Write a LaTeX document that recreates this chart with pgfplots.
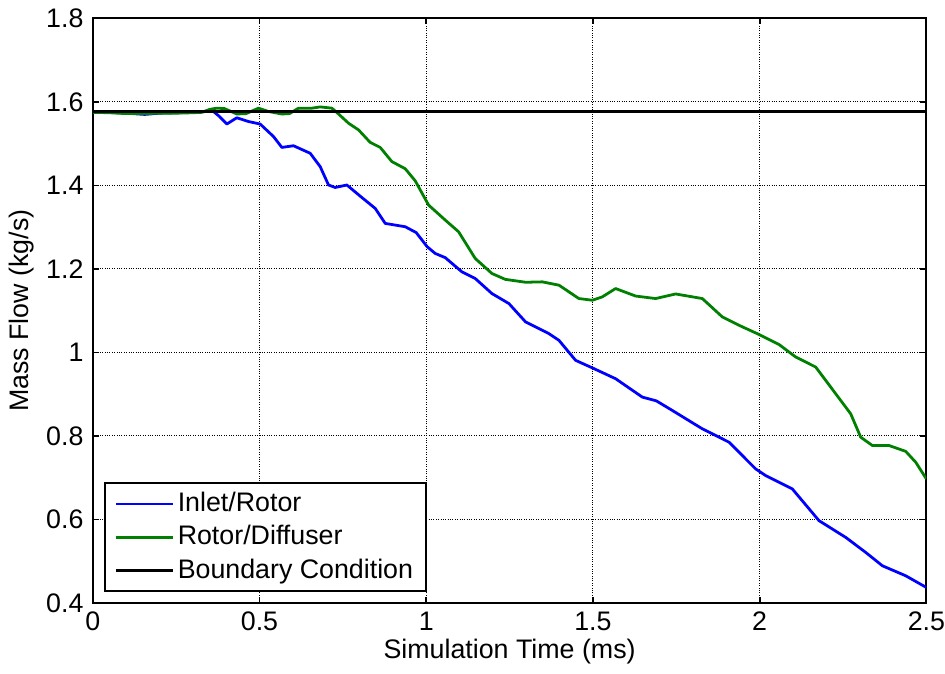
\documentclass[border=0pt]{standalone}
\usepackage{fontspec}
\setmainfont{Liberation Sans}
\usepackage{pgfplots}
\pgfplotsset{compat=1.18}

\definecolor{mblue}{RGB}{0,0,255}
\definecolor{mgreen}{RGB}{0,128,0}

\begin{document}
\fontsize{13.5}{16}\selectfont
\begin{tikzpicture}
\begin{axis}[
    scale only axis,
    width=420pt,
    height=294.5pt,
    xmin=0, xmax=2.5,
    ymin=0.4, ymax=1.8,
    xtick={0,0.5,...,2.5},
    ytick={0.4,0.6,...,1.8},
    xticklabels={0,0.5,1,1.5,2,2.5},
    yticklabels={0.4,0.6,0.8,1,1.2,1.4,1.6,1.8},
    xlabel={Simulation Time (ms)},
    ylabel={Mass Flow (kg/s)},
    xlabel style={yshift=5pt},
    ylabel style={yshift=-3pt},
    grid=major,
    major grid style={black, line width=0.5pt, dash pattern=on 0.5pt off 0.7pt},
    tick align=inside,
    major tick length=3pt,
    every tick/.style={black, line width=0.9pt},
    axis line style={line width=1.1pt},
    tick label style={font=\fontsize{13.5}{16}\selectfont},
    xticklabel style={inner xsep=0pt},
    label style={font=\fontsize{13.5}{16}\selectfont},
    /pgf/number format/assume math mode=true,
    legend cell align=left,
    legend style={
        at={(rel axis cs:0.013,0.018)}, anchor=south west,
        draw=black, line width=1.1pt, fill=white,
        font=\fontsize{13.5}{16}\selectfont,
        row sep=2pt, inner xsep=5pt, inner ysep=3pt,
        nodes={inner sep=1.5pt},
    },
    legend image code/.code={
        \draw[#1, line width=1.3pt] (0cm,0cm) -- (29pt,0cm);
    },
]

\addplot[mblue, line width=1.4pt, line join=round] coordinates {
(0.000,1.577) (0.050,1.575) (0.100,1.573) (0.156,1.570) (0.200,1.573)
(0.250,1.574) (0.300,1.575) (0.340,1.577) (0.362,1.577) (0.380,1.565)
(0.402,1.547) (0.432,1.562) (0.467,1.553) (0.502,1.547) (0.522,1.532)
(0.542,1.517) (0.567,1.491) (0.602,1.495) (0.652,1.477) (0.682,1.445)
(0.707,1.401) (0.727,1.395) (0.762,1.401) (0.807,1.371) (0.847,1.345)
(0.877,1.309) (0.937,1.301) (0.970,1.287) (1.003,1.253) (1.027,1.237)
(1.057,1.227) (1.107,1.193) (1.147,1.177) (1.197,1.141) (1.248,1.117)
(1.298,1.073) (1.368,1.045) (1.398,1.029) (1.448,0.981) (1.498,0.963)
(1.568,0.937) (1.648,0.893) (1.690,0.884) (1.738,0.861) (1.828,0.817)
(1.908,0.785) (1.988,0.721) (2.018,0.705) (2.098,0.673) (2.178,0.597)
(2.258,0.557) (2.318,0.521) (2.368,0.489) (2.438,0.465) (2.500,0.437)
};
\addlegendentry{Inlet/Rotor}

\addplot[mgreen, line width=1.4pt, line join=round] coordinates {
(0.000,1.575) (0.050,1.574) (0.100,1.572) (0.150,1.572) (0.200,1.573)
(0.250,1.573) (0.300,1.574) (0.327,1.575) (0.350,1.582) (0.372,1.585)
(0.395,1.584) (0.432,1.571) (0.460,1.572) (0.497,1.585) (0.527,1.577)
(0.567,1.571) (0.590,1.572) (0.617,1.585) (0.657,1.585) (0.682,1.588)
(0.717,1.585) (0.737,1.571) (0.767,1.549) (0.797,1.533) (0.832,1.503)
(0.862,1.491) (0.897,1.457) (0.937,1.440) (0.967,1.411) (1.007,1.353)
(1.057,1.317) (1.097,1.289) (1.147,1.225) (1.197,1.189) (1.237,1.175)
(1.298,1.168) (1.348,1.169) (1.398,1.161) (1.458,1.129) (1.498,1.125)
(1.528,1.133) (1.568,1.153) (1.628,1.135) (1.688,1.129) (1.748,1.140)
(1.828,1.129) (1.888,1.085) (1.938,1.065) (1.998,1.043) (2.058,1.019)
(2.108,0.989) (2.168,0.965) (2.228,0.901) (2.273,0.853) (2.303,0.797)
(2.338,0.777) (2.388,0.777) (2.438,0.763) (2.468,0.737) (2.500,0.697)
};
\addlegendentry{Rotor/Diffuser}

\addplot[black, line width=1.3pt] coordinates {(0,1.577) (2.5,1.577)};
\addlegendentry{Boundary Condition}

\end{axis}
\end{tikzpicture}
\end{document}
